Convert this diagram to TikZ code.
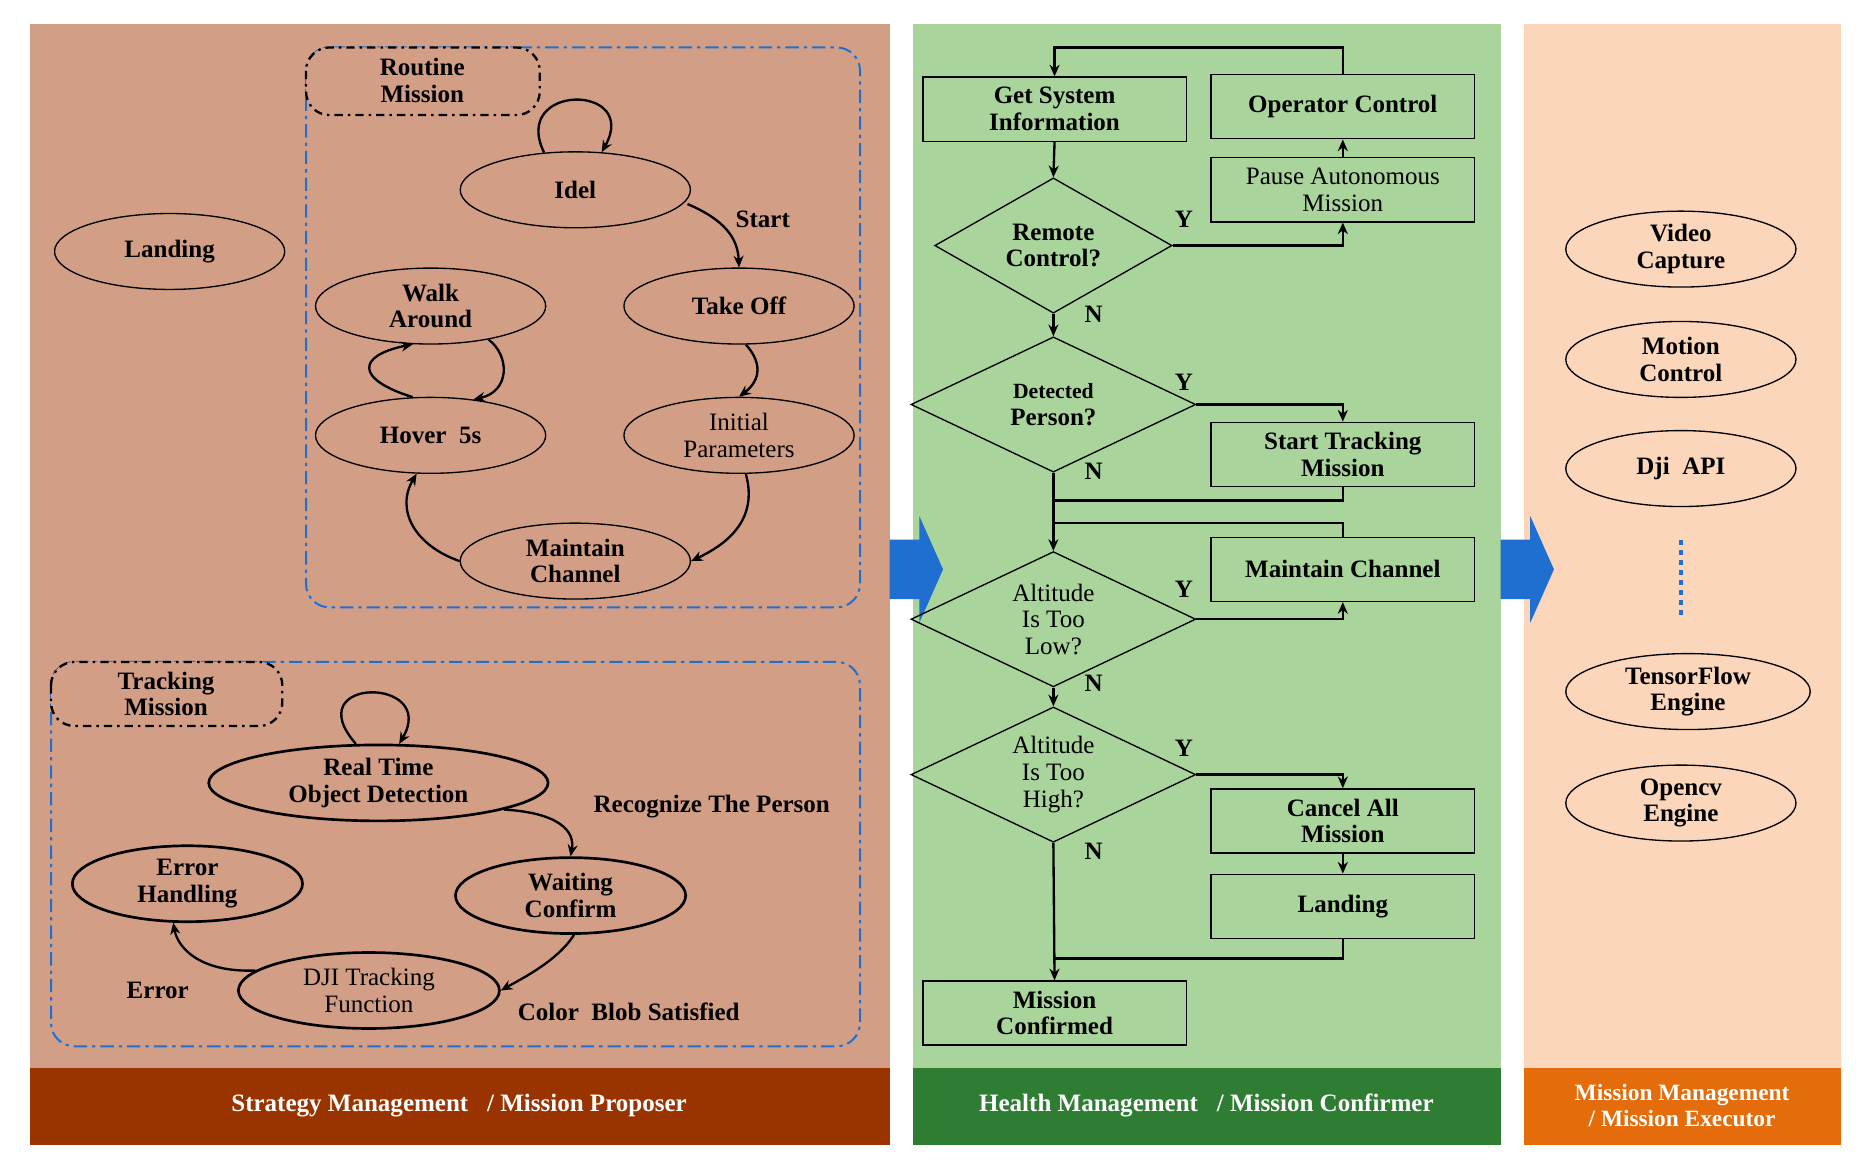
\documentclass[tikz,border=0pt]{standalone}
\usepackage{fontspec}
\setmainfont{Liberation Serif}
\usetikzlibrary{shapes.geometric,shapes.arrows,arrows.meta}
\definecolor{brownbg}{HTML}{D29F86}
\definecolor{brownbar}{HTML}{993300}
\definecolor{greenbg}{HTML}{A9D49C}
\definecolor{greenbar}{HTML}{2E7D32}
\definecolor{peachbg}{HTML}{FCD6BA}
\definecolor{orangebar}{HTML}{E46C0A}
\definecolor{bluel}{HTML}{1F6FD0}
\begin{document}
\begin{tikzpicture}[x=0.025cm,y=-0.025cm,
  every node/.style={font=\fontsize{15}{16}\selectfont\bfseries, align=center},
  ell/.style={ellipse,draw,line width=0.8pt,minimum width=4.85cm,minimum height=1.6cm,inner sep=0pt},
  ellt/.style={ell,line width=1.6pt},
  box/.style={rectangle,draw,line width=0.8pt,minimum width=5.55cm,minimum height=1.35cm,inner sep=0pt},
  dia/.style={diamond,draw,line width=0.8pt,minimum width=6cm,minimum height=2.85cm,inner sep=0pt,aspect=2.1},
  arr/.style={-{Stealth[length=7pt,width=6pt]},line width=1.4pt},
  ln/.style={line width=1.4pt},
  lbl/.style={font=\fontsize{15}{16}\selectfont\bfseries},
  reg/.style={font=\fontsize{15}{16}\selectfont},
  bar/.style={font=\fontsize{15}{16}\selectfont\bfseries,text=white}]
\useasboundingbox (0,0) rectangle (1568,980);
\fill[white] (0,0) rectangle (1568,980);
% panels
\fill[brownbg] (25,20) rectangle (750,900);
\fill[brownbar] (25,900) rectangle (750,965);
\fill[greenbg] (770,20) rectangle (1265,900);
\fill[greenbar] (770,900) rectangle (1265,965);
\fill[peachbg] (1285,20) rectangle (1552,900);
\fill[orangebar] (1285,900) rectangle (1552,965);
\node[bar] (b1) at (387,932) {Strategy Management \ \ / Mission Proposer};
\node[bar] (b2) at (1017,932) {Health Management \ \ / Mission Confirmer};
\node[bar,font=\fontsize{14}{16}\selectfont\bfseries] (b3) at (1418,932) {Mission Management\\/ Mission Executor};
% blue arrows
\fill[bluel] (750,455) -- (775,455) -- (775,435) -- (795,480) -- (775,525) -- (775,505) -- (750,505) -- cycle;
\fill[bluel] (1265,455) -- (1290,455) -- (1290,435) -- (1310,480) -- (1290,525) -- (1290,505) -- (1265,505) -- cycle;
% routine group
\draw[bluel,line width=1.2pt,dash pattern=on 8pt off 3pt on 2pt off 3pt,rounded corners=14pt] (258,40) rectangle (725,512);
\draw[line width=1.4pt,dash pattern=on 5pt off 3pt on 1.5pt off 3pt,rounded corners=14pt,fill=brownbg] (258,40) rectangle (455,97);
\node[lbl] (rm) at (356,68) {Routine\\Mission};
\node[ell] (idel) at (485,160) {Idel};
\node[ell] (take) at (623,258) {Take Off};
\node[ell] (walk) at (363,258) {Walk\\Around};
\node[ell] (hover) at (363,367) {Hover \ 5s};
\node[ell,font=\fontsize{15}{16}\selectfont] (init) at (623,367) {Initial\\Parameters};
\node[ell] (maint) at (485,473) {Maintain\\Channel};
\node[ell] (land) at (143,212) {Landing};
\draw[arr] (idel.130) .. controls (430,70) and (540,70) .. (idel.55);
\draw[arr] (idel.east) ++(-3,12) coordinate (a1) .. controls (610,185) and (622,200) .. (take.north);
\node[lbl] (start) at (643,185) {Start};
\draw[arr] (take.-80) .. controls (642,305) and (642,320) .. (init.north);
\draw[arr] (init.-80) .. controls (640,440) and (610,460) .. (maint.east);
\draw[arr] (maint.west) .. controls (350,460) and (333,430) .. (hover.-110);
\draw[arr] (hover.115) .. controls (300,320) and (300,300) .. (walk.-115);
\draw[arr] (walk.-30) .. controls (430,300) and (430,330) .. (hover.40);
% tracking group
\draw[bluel,line width=1.2pt,dash pattern=on 8pt off 3pt on 2pt off 3pt,rounded corners=14pt] (43,558) rectangle (725,882);
\draw[line width=1.4pt,dash pattern=on 5pt off 3pt on 1.5pt off 3pt,rounded corners=14pt,fill=brownbg] (43,558) rectangle (238,612);
\node[lbl] (tm) at (140,585) {Tracking\\Mission};
\node[ellt,minimum width=7.15cm] (rt) at (319,660) {Real Time\\Object Detection};
\node[ellt] (wait) at (481,755) {Waiting\\Confirm};
\node[ellt] (err) at (158,745) {Error\\Handling};
\node[ellt,minimum width=5.5cm,font=\fontsize{15}{16}\selectfont] (dji) at (311,835) {DJI Tracking\\Function};
\draw[arr] (rt.120) .. controls (250,570) and (370,570) .. (rt.62);
\draw[arr] (rt.-12) .. controls (470,685) and (485,700) .. (wait.north);
\node[lbl] (rec) at (600,680) {Recognize The Person};
\draw[arr] (wait.-85) .. controls (470,810) and (440,825) .. (dji.east);
\node[lbl] (cbs) at (530,853) {Color \ Blob Satisfied};
\draw[arr] (dji.170) .. controls (170,820) and (150,800) .. (err.-110);
\node[lbl] (erl) at (133,835) {Error};
% health flow
\node[box,minimum width=5.55cm] (gsi) at (889,92) {Get System\\Information};
\node[box] (op) at (1132,90) {Operator Control};
\node[box,font=\fontsize{15}{16}\selectfont] (pause) at (1132,160) {Pause Autonomous\\Mission};
\node[dia,minimum width=5cm] (rc) at (888,207) {Remote\\Control?};
\node[dia] (dp) at (888,341) {{\fontsize{13}{15}\selectfont Detected}\\Person?};
\node[box] (stm) at (1132,383) {Start Tracking\\Mission};
\node[dia,font=\fontsize{15}{16}\selectfont] (low) at (888,522) {Altitude\\Is Too\\Low?};
\node[box] (mc) at (1132,480) {Maintain Channel};
\node[dia,font=\fontsize{15}{16}\selectfont] (high) at (888,653) {Altitude\\Is Too\\High?};
\node[box] (cam) at (1132,692) {Cancel All\\Mission};
\node[box] (ld) at (1132,764) {Landing};
\node[box] (mcf) at (889,854) {Mission\\Confirmed};
\draw[arr] (op.north) -- (1132,40) -| (gsi.north);
\draw[arr] (gsi.south) -- (rc.north);
\draw[arr] (rc.east) -| (pause.south);
\node[lbl] (y1) at (998,185) {Y};
\draw[arr] (pause.north) -- (op.south);
\draw[arr] (rc.south) -- (dp.north);
\node[lbl] (n1) at (922,265) {N};
\draw[arr] (dp.east) -| (stm.north);
\node[lbl] (y2) at (998,322) {Y};
\draw[arr] (dp.south) -- (low.north);
\node[lbl] (n2) at (922,397) {N};
\draw[ln] (stm.south) |- (888,422);
\draw[ln] (888,441) -| (mc.north);
\draw[arr] (low.east) -| (mc.south);
\node[lbl] (y3) at (998,497) {Y};
\draw[arr] (low.south) -- (high.north);
\node[lbl] (n3) at (922,576) {N};
\draw[arr] (high.east) -| (cam.north);
\node[lbl] (y4) at (998,631) {Y};
\draw[arr] (cam.south) -- (ld.north);
\draw[ln] (ld.south) |- (888,808);
\draw[arr] (high.south) -- (mcf.north);
\node[lbl] (n4) at (922,718) {N};
% right panel
\node[ell] (vc) at (1417,210) {Video\\Capture};
\node[ell] (mo) at (1417,303) {Motion\\Control};
\node[ell] (dji2) at (1417,395) {Dji \ API};
\node[ell,minimum width=5.15cm] (tf) at (1423,583) {TensorFlow\\Engine};
\node[ell] (ocv) at (1417,677) {Opencv\\Engine};
\coordinate (d1) at (1417,455);
\coordinate (d2) at (1417,522);
\draw[bluel,line width=2.5pt,dash pattern=on 3pt off 3pt] (d1) -- (d2);
\end{tikzpicture}
\end{document}
